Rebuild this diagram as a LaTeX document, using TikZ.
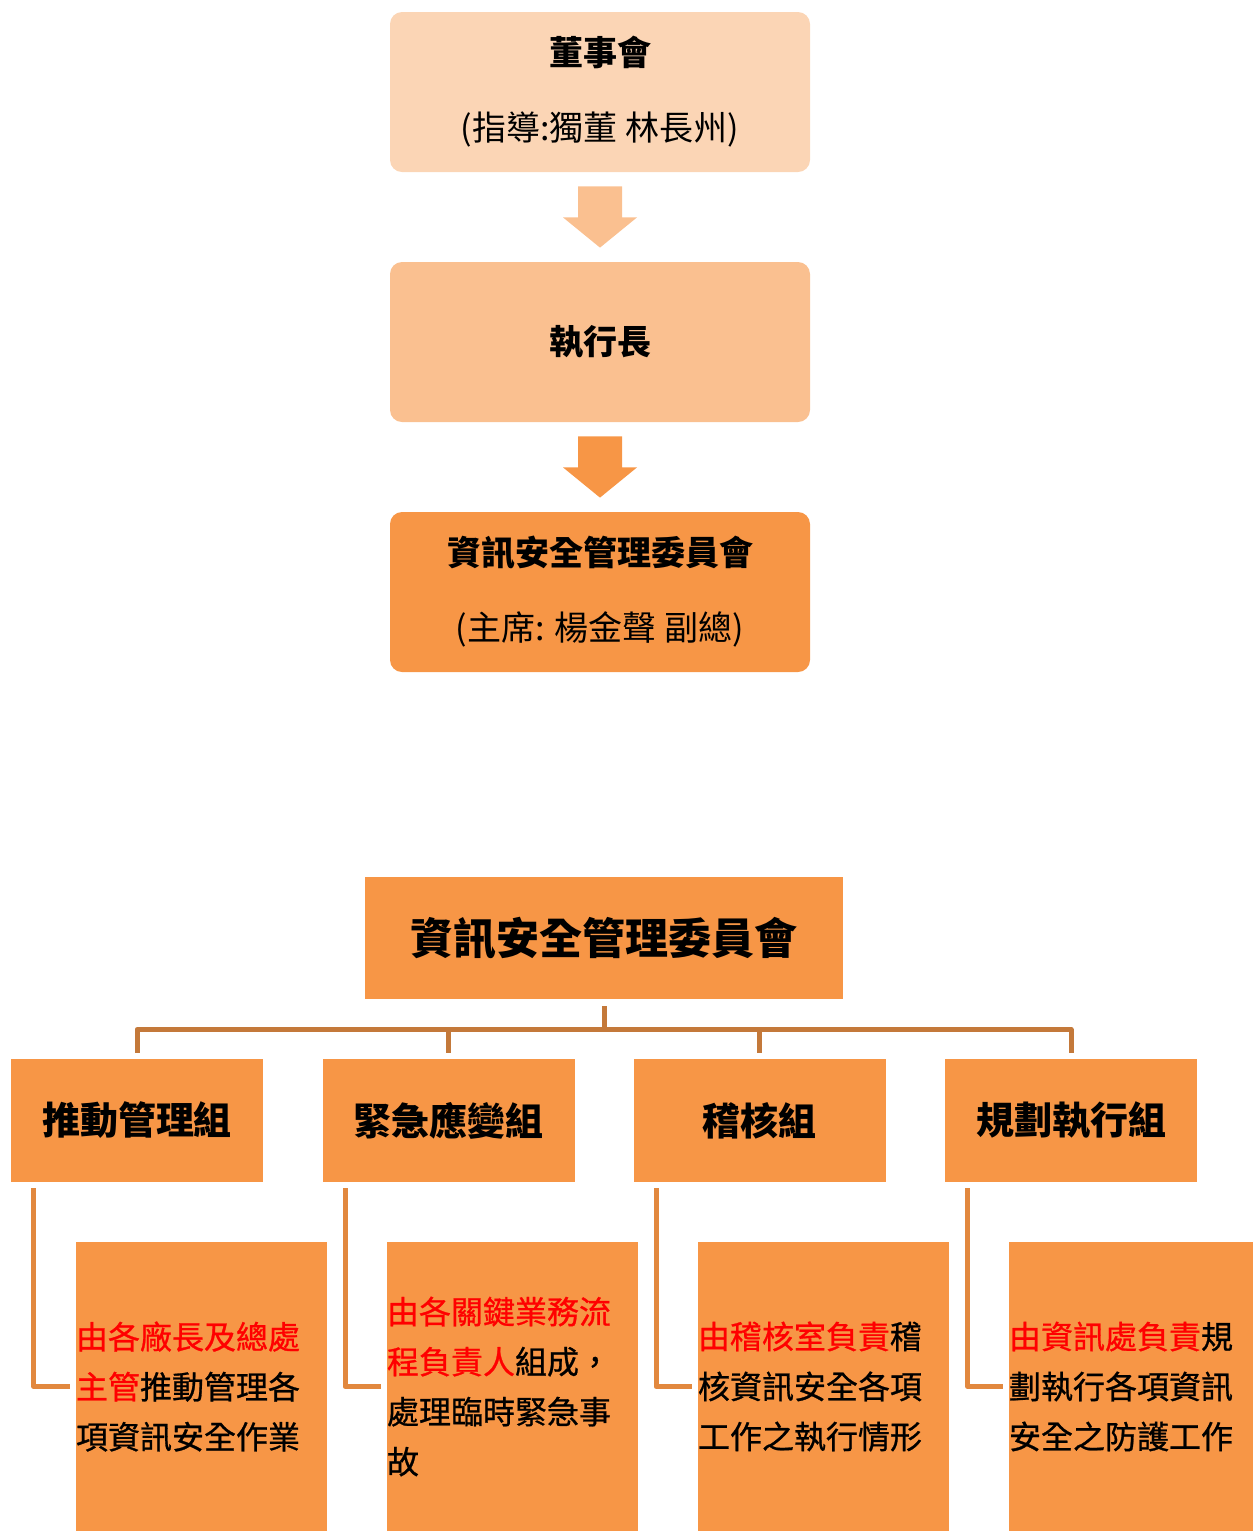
\documentclass[tikz,border=0pt]{standalone}
\usepackage{fontspec}
\setmainfont{Noto Sans CJK TC}
\newfontfamily\dutyfont[FakeBold=0.8]{Noto Sans CJK TC}
\usetikzlibrary{calc}

\definecolor{peachA}{HTML}{FBD5B5}
\definecolor{peachB}{HTML}{FAC090}
\definecolor{orangeC}{HTML}{F79646}
\definecolor{busline}{RGB}{196,121,58}
\definecolor{legline}{RGB}{226,136,62}

\begin{document}
\begin{tikzpicture}[
        x=0.5pt, y=-0.5pt,
        topbox/.style={rounded corners=6pt, minimum width=210pt, minimum height=80pt,
                inner sep=0pt, align=center, font=\fontsize{17}{37.5}\selectfont},
        grpbox/.style={fill=orangeC, minimum width=126pt, minimum height=61.5pt,
                inner sep=0pt, font=\fontsize{19}{23}\selectfont\bfseries},
        descbox/.style={fill=orangeC, minimum height=144.5pt, text width=125.5pt,
                inner sep=0pt, align=left, font=\dutyfont\fontsize{16}{25}\selectfont},
        bus/.style={busline, line width=2.5pt, line join=round},
        leg/.style={legline, line width=2.5pt, line join=round}
    ]
    \useasboundingbox (0,0) rectangle (1253,1533);

    % Upper chain
    \node[topbox, fill=peachA] (board) at (600,92) {\textbf{董事會}\\(指導:獨董 林長州)};
    \node[topbox, fill=peachB, font=\fontsize{17}{37.5}\selectfont\bfseries] (ceo) at (600,342) {執行長};
    \node[topbox, fill=orangeC] (isc) at (600,592) {\textbf{資訊安全管理委員會}\\(主席: 楊金聲 副總)};

    % Block arrows
    \foreach \a/\b/\c in {board/ceo/peachB, ceo/isc/orangeC}
        \fill[\c] ($(\a.south)+(-22,14)$) -- ($(\a.south)+(-22,45)$) -- ($(\a.south)+(-37,45)$)
            -- ($(\b.north)+(0,-14)$) -- ($(\a.south)+(37,45)$) -- ($(\a.south)+(22,45)$)
            -- ($(\a.south)+(22,14)$) -- cycle;

    % Committee
    \node[fill=orangeC, minimum width=239pt, minimum height=61pt, inner sep=0pt,
        font=\fontsize{21.5}{26}\selectfont\bfseries] (iscmain) at (604,938) {資訊安全管理委員會};

    % Groups
    \node[grpbox] (promo) at (137,1120.5) {推動管理組};
    \node[grpbox] (emerg) at (448.5,1120.5) {緊急應變組};
    \node[grpbox] (audit) at (759.5,1120.5) {稽核組};
    \node[grpbox] (plan) at (1071,1120.5) {規劃執行組};

    % Duties
    \node[descbox] (promo-d) at (201.5,1386.5) {\textcolor{red}{由各廠長及總處}\\\textcolor{red}{主管}推動管理各\\項資訊安全作業};
    \node[descbox] (emerg-d) at (512.5,1386.5) {\textcolor{red}{由各關鍵業務流}\\\textcolor{red}{程負責人}組成，\\處理臨時緊急事\\故};
    \node[descbox] (audit-d) at (823.5,1386.5) {\textcolor{red}{由稽核室負責}稽\\核資訊安全各項\\工作之執行情形};
    \node[descbox] (plan-d) at (1134.5,1386.5) {\textcolor{red}{由資訊處負責}規\\劃執行各項資訊\\安全之防護工作};

    % Connectors
    \foreach \g in {promo,emerg,audit,plan} {
        \draw[bus] ([yshift=-3.5pt]iscmain.south) -- ++(0,-11.5pt) -| ([yshift=3pt]\g.north);
        \draw[leg] ([xshift=11.5pt,yshift=-3pt]\g.south west) |- ([xshift=-3pt]\g-d.west);
    }
\end{tikzpicture}
\end{document}
